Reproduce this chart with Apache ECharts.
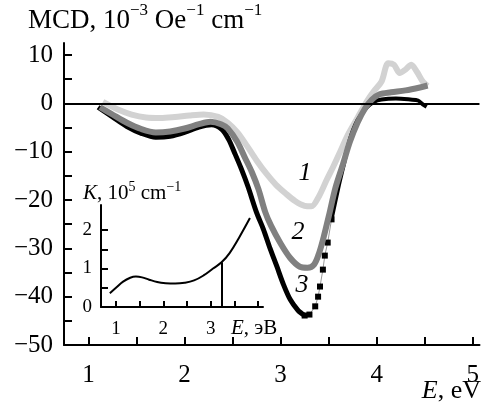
<!DOCTYPE html>
<html><head><meta charset="utf-8">
<script src="https://cdn.jsdelivr.net/npm/echarts@6/dist/echarts.min.js"></script>
<style>html,body{margin:0;padding:0;background:#fff}#c{width:482px;height:410px}</style>
</head><body><div id="c"></div>
<script>
// ---- data ----
var curve1 = [[1.15,0.3],[1.3,-1.2],[1.45,-2.3],[1.6,-2.9],[1.75,-3.0],[1.9,-2.8],[2.05,-2.5],[2.2,-2.3],[2.35,-2.8],[2.45,-4.0],[2.55,-6.0],[2.65,-8.8],[2.75,-11.8],[2.85,-14.5],[2.95,-16.8],[3.05,-18.6],[3.15,-20.2],[3.25,-21.2],[3.32,-21.3],[3.4,-19.2],[3.48,-15.8],[3.55,-13.0],[3.62,-10.0],[3.7,-6.5],[3.8,-3.0],[3.9,0.5],[3.97,2.5],[4.05,4.5],[4.12,8.3],[4.18,8.0],[4.24,6.3],[4.3,7.0],[4.36,8.0],[4.42,6.5],[4.48,4.5],[4.53,3.6]];
var curve2 = [[1.12,-0.8],[1.25,-2.3],[1.4,-4.0],[1.55,-5.3],[1.7,-6.0],[1.85,-5.8],[2.0,-5.2],[2.15,-4.3],[2.27,-3.8],[2.38,-4.3],[2.45,-5.2],[2.55,-8.0],[2.63,-11.3],[2.7,-14.2],[2.77,-17.8],[2.84,-22.5],[2.9,-25.3],[3.0,-29.0],[3.1,-32.0],[3.2,-33.8],[3.28,-34.0],[3.35,-33.3],[3.4,-31.0],[3.45,-27.5],[3.51,-22.6],[3.57,-17.5],[3.65,-12.5],[3.72,-8.0],[3.8,-4.0],[3.88,-1.0],[3.95,0.8],[4.03,1.9],[4.15,2.3],[4.3,2.7],[4.45,3.3],[4.53,3.7]];
var curve3 = [[1.1,-0.8],[1.25,-2.8],[1.4,-4.8],[1.55,-6.2],[1.7,-7.0],[1.85,-6.8],[2.0,-6.0],[2.15,-4.9],[2.28,-4.4],[2.39,-5.4],[2.46,-7.5],[2.52,-10.2],[2.59,-13.5],[2.66,-17.2],[2.75,-22.6],[2.82,-26.0],[2.89,-30.0],[2.96,-33.7],[3.03,-37.5],[3.1,-40.6],[3.18,-42.8],[3.25,-43.9]];
var curve3Sparse = [[3.25,-43.9],[3.3,-43.7],[3.36,-42.0],[3.39,-40.0],[3.41,-37.9],[3.44,-34.4],[3.46,-31.5],[3.49,-28.8],[3.53,-24.0]];
var curve3Tail = [[3.53,-24.0],[3.6,-17.5],[3.66,-12.5],[3.72,-7.5],[3.8,-3.5],[3.9,-0.8],[3.97,0.3],[4.05,0.8],[4.2,1.0],[4.35,0.8],[4.43,0.6],[4.48,-0.2],[4.52,-0.7]];
var insetK = [[0.87,0.36],[1.0,0.5],[1.15,0.66],[1.3,0.76],[1.42,0.79],[1.55,0.77],[1.7,0.71],[1.87,0.65],[2.05,0.62],[2.25,0.61],[2.45,0.63],[2.65,0.69],[2.85,0.82],[3.05,1.0],[3.23,1.16],[3.4,1.4],[3.6,1.8],[3.83,2.31]];
var insetMarker = [3.23, 1.16];
var xTicks = [1,1.5,2,2.5,3,3.5,4,4.5,5];
var xLabels = [1,2,3,4,5];
var yTicks = [-50,-45,-40,-35,-30,-25,-20,-15,-10,-5,0,5,10];
var yLabels = [-50,-40,-30,-20,-10,0,10];
var insetXTicks = [1,1.5,2,2.5,3,3.5,4];
var insetXLabels = [1,2,3];
var insetYTicks = [0,0.5,1,1.5,2];
var insetYLabels = [0,1,2];

var FF = 'Liberation Serif';
function minus(v){ return String(v).replace('-', '\u2212'); }
var axLine = {show:true, onZero:false, lineStyle:{color:'#000', width:2}};

var chart = echarts.init(document.getElementById('c'), null, {renderer:'canvas'});
chart.setOption({
  animation:false,
  backgroundColor:'#fff',
  textStyle:{fontFamily:FF},
  grid:[
    {left:64, top:43, right:2, bottom:65},
    {left:101, top:205, width:162, height:102}
  ],
  xAxis:[
    {gridIndex:0, type:'value', min:0.745, max:5.07,
     axisLine:axLine,
     axisTick:{show:true, inside:true, length:8, customValues:xTicks, lineStyle:{color:'#000', width:2}},
     axisLabel:{customValues:xLabels, margin:18, fontSize:25, color:'#000', fontFamily:FF},
     splitLine:{show:false}},
    {gridIndex:1, type:'value', min:0.683, max:4.106,
     axisLine:axLine,
     axisTick:{show:true, inside:true, length:6, customValues:insetXTicks, lineStyle:{color:'#000', width:2}},
     axisLabel:{customValues:insetXLabels, margin:13, fontSize:19, color:'#000', fontFamily:FF},
     splitLine:{show:false}}
  ],
  yAxis:[
    {gridIndex:0, type:'value', min:-50, max:12.5,
     axisLine:axLine,
     axisTick:{show:true, inside:true, length:8, customValues:yTicks, lineStyle:{color:'#000', width:2}},
     axisLabel:{customValues:yLabels, margin:11, fontSize:25, color:'#000', fontFamily:FF, formatter:minus},
     splitLine:{show:false}},
    {gridIndex:1, type:'value', min:0, max:2.65,
     axisLine:axLine,
     axisTick:{show:true, inside:true, length:7, customValues:insetYTicks, lineStyle:{color:'#000', width:2}},
     axisLabel:{customValues:insetYLabels, margin:9, fontSize:19, color:'#000', fontFamily:FF},
     splitLine:{show:false}}
  ],
  series:[
    {type:'line', xAxisIndex:0, yAxisIndex:0, data:curve1, showSymbol:false, smooth:0.3,
     lineStyle:{color:'#d2d2d2', width:6}, z:2,
     markLine:{silent:true, symbol:'none', label:{show:false}, lineStyle:{color:'#000', width:2, type:'solid'}, data:[{yAxis:0}]}},
    {type:'line', xAxisIndex:0, yAxisIndex:0, data:curve3, showSymbol:false, smooth:0.3,
     lineStyle:{color:'#000', width:5}, z:3},
    {type:'line', xAxisIndex:0, yAxisIndex:0, data:curve3Sparse, symbol:'rect', symbolSize:6, showSymbol:true,
     itemStyle:{color:'#000'}, lineStyle:{color:'#999', width:1}, z:3},
    {type:'line', xAxisIndex:0, yAxisIndex:0, data:curve3Tail, showSymbol:false, smooth:0.3,
     lineStyle:{color:'#000', width:4}, z:3},
    {type:'line', xAxisIndex:0, yAxisIndex:0, data:curve2, showSymbol:false, smooth:0.3,
     lineStyle:{color:'#808080', width:6}, z:4},
    {type:'line', xAxisIndex:1, yAxisIndex:1, data:insetK, showSymbol:false, smooth:0.4,
     lineStyle:{color:'#000', width:2}, z:5,
     markLine:{silent:true, symbol:'none', label:{show:false}, lineStyle:{color:'#000', width:2, type:'solid'},
       data:[[{coord:[insetMarker[0],0]},{coord:[insetMarker[0],insetMarker[1]]}]]}}
  ],
  graphic:[
    {type:'text', left:28, top:2, style:{
      text:'{a|MCD, 10}{s|\u22123}{a| Oe}{s|\u22121}{a| cm}{s|\u22121}',
      rich:{a:{fontSize:27, fontFamily:FF, fill:'#000', lineHeight:32, verticalAlign:'bottom'},
            s:{fontSize:17, fontFamily:FF, fill:'#000', lineHeight:32, verticalAlign:'top'}}}},
    {type:'text', left:83, top:180, style:{
      text:'{i|K}{a|, 10}{s|5}{a| cm}{s|\u22121}',
      rich:{i:{fontSize:21, fontFamily:FF, fontStyle:'italic', fill:'#000', lineHeight:24, verticalAlign:'bottom'},
            a:{fontSize:21, fontFamily:FF, fill:'#000', lineHeight:24, verticalAlign:'bottom'},
            s:{fontSize:14, fontFamily:FF, fill:'#000', lineHeight:24, verticalAlign:'top'}}}},
    {type:'text', right:1, top:378, style:{
      text:'{i|E}{a|, eV}',
      rich:{i:{fontSize:26, fontFamily:FF, fontStyle:'italic', fill:'#000'},
            a:{fontSize:26, fontFamily:FF, fill:'#000'}}}},
    {type:'text', left:231, top:318, style:{
      text:'{i|E}{a|, эВ}',
      rich:{i:{fontSize:21, fontFamily:FF, fontStyle:'italic', fill:'#000'},
            a:{fontSize:21, fontFamily:FF, fill:'#000'}}}},
    {type:'text', x:305, y:173, style:{text:'1', fontSize:26, fontStyle:'italic', fontFamily:FF, fill:'#000', align:'center', verticalAlign:'middle'}},
    {type:'text', x:298, y:232, style:{text:'2', fontSize:26, fontStyle:'italic', fontFamily:FF, fill:'#000', align:'center', verticalAlign:'middle'}},
    {type:'text', x:302, y:285, style:{text:'3', fontSize:26, fontStyle:'italic', fontFamily:FF, fill:'#000', align:'center', verticalAlign:'middle'}}
  ]
});
</script></body></html>
